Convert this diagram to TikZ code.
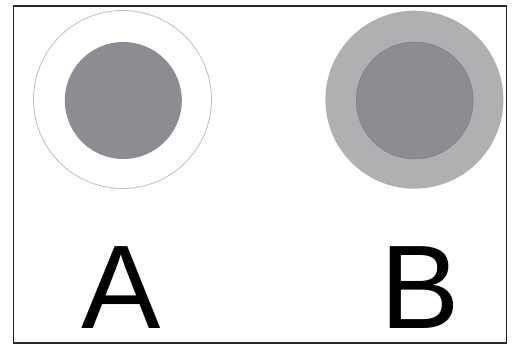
\documentclass[tikz,border=0pt]{standalone}
\usepackage{fontspec}
\setmainfont{Liberation Sans}
\definecolor{innergray}{RGB}{140,141,146}
\definecolor{ringgray}{RGB}{176,176,178}
\definecolor{linegray}{RGB}{190,190,190}
\definecolor{framecol}{RGB}{40,40,40}
\begin{document}
\begin{tikzpicture}[x=1pt,y=-1pt,
  disc/.style={circle,inner sep=0pt,outer sep=0pt},
  letter/.style={inner sep=0pt,outer sep=0pt,anchor=base,text depth=0pt,font=\fontsize{119}{119}\selectfont}]
\useasboundingbox (0,0) rectangle (515,344);
\node[draw=framecol,line width=1.6pt,minimum width=493,minimum height=337,inner sep=0pt,anchor=north west] (frame) at (12.5,5.5) {};
\node[disc,draw=linegray,line width=0.8pt,fill=white,minimum size=178] (outerA) at (122.5,99.5) {};
\node[disc,fill=innergray,minimum size=117] (innerA) at (123.3,100.5) {};
\node[disc,fill=ringgray,minimum size=178] (outerB) at (414.4,99.7) {};
\node[disc,fill=innergray,draw=innergray!85!black,line width=0.4pt,minimum size=117] (innerB) at (414.7,100.5) {};
\node[letter] (labA) at (121.3,328.3) {A};
\node[letter] (labB) at (419.7,328.3) {B};
\end{tikzpicture}
\end{document}
